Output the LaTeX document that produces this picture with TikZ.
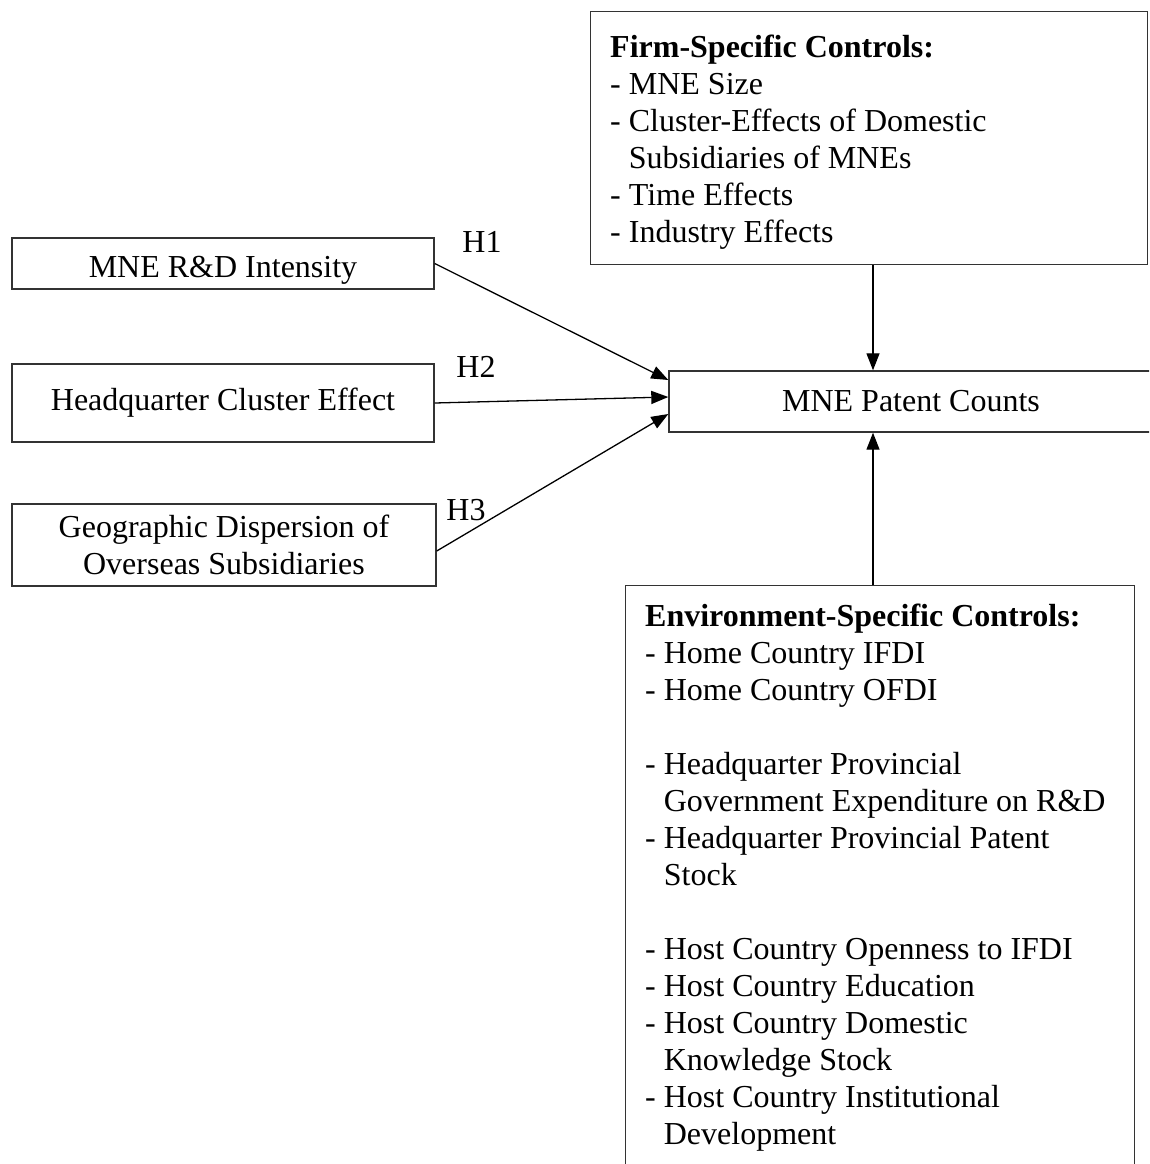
\documentclass[tikz,border=0pt]{standalone}
\usepackage{fontspec}
\setmainfont{Liberation Serif}
\usetikzlibrary{arrows.meta,positioning,calc}
\definecolor{Edge}{HTML}{333333}
\tikzset{
  every picture/.append style={font=\fontsize{32}{37}\selectfont},
  box/.style={rectangle, draw=Edge, line width=1.4pt, inner sep=0pt, align=center},
  lst/.style={inner sep=0pt, align=left, anchor=base west},
  hyp/.style={inner sep=0pt},
  link/.style={-{Triangle[length=17pt,width=13pt]}, line width=1.3pt, draw=black},
}
\newcommand{\ind}{\hphantom{- }}

\begin{document}
\begin{tikzpicture}[x=1pt,y=-1pt]
\useasboundingbox (0,0) rectangle (1149,1164);
\clip (0,0) rectangle (1149,1164);

% ---------------- explanatory variables ----------------------------------------
\node[box, minimum width=422pt, minimum height=51pt, text height=28pt, text depth=0pt] (rd) at (223,263.5) {MNE R\&D Intensity};
\node[box, minimum width=422pt, minimum height=78pt] (hq) at (223,403) {Headquarter Cluster Effect};
\node[box, minimum width=424pt, minimum height=82pt] (gd) at (224,545) {Geographic Dispersion of\\Overseas Subsidiaries};

\node[hyp] (h1) at (482,242) {H1};
\node[hyp] (h2) at (476,367) {H2};
\node[hyp] (h3) at (466,510) {H3};

% ---------------- dependent variable -------------------------------------------
\node[box, minimum width=484pt, minimum height=61pt] (pc) at (911,401.5) {MNE Patent Counts};

\draw[link] (rd.east) -- ([yshift=21.5pt]pc.west);
\draw[link] (hq.east) -- ([yshift=4.5pt]pc.west);
\draw[link] ([yshift=-6pt]gd.east) -- ([yshift=-12.5pt]pc.west);

% ---------------- firm-specific controls ---------------------------------------
% (base anchor of a multi-line node = baseline of its last line)
\node[box, anchor=north west, minimum width=557pt, minimum height=253pt] (fc) at (590,11) {};
\node[lst] (fcl) at ([xshift=20pt,yshift=-231pt]fc.north west)
  {\textbf{Firm-Specific Controls:}\\
   - MNE Size\\
   - Cluster-Effects of Domestic\\
   \ind Subsidiaries of MNEs\\
   - Time Effects\\
   - Industry Effects};

% ---------------- environment-specific controls --------------------------------
\node[box, anchor=north west, minimum width=509pt, minimum height=700pt] (ec) at (625,585) {};
\node[lst] (ecl) at ([xshift=20pt,yshift=-559pt]ec.north west)
  {\textbf{Environment-Specific Controls:}\\
   - Home Country IFDI\\
   - Home Country OFDI\\[37pt]
   - Headquarter Provincial\\
   \ind Government Expenditure on R\&D\\
   - Headquarter Provincial Patent\\
   \ind Stock\\[37pt]
   - Host Country Openness to IFDI\\
   - Host Country Education\\
   - Host Country Domestic\\
   \ind Knowledge Stock\\
   - Host Country Institutional\\
   \ind Development};

\coordinate (ax) at (873,0);
\draw[link] (fc.south -| ax) -- (pc.north -| ax);
\draw[link] (ec.north -| ax) -- (pc.south -| ax);

\end{tikzpicture}
\end{document}
